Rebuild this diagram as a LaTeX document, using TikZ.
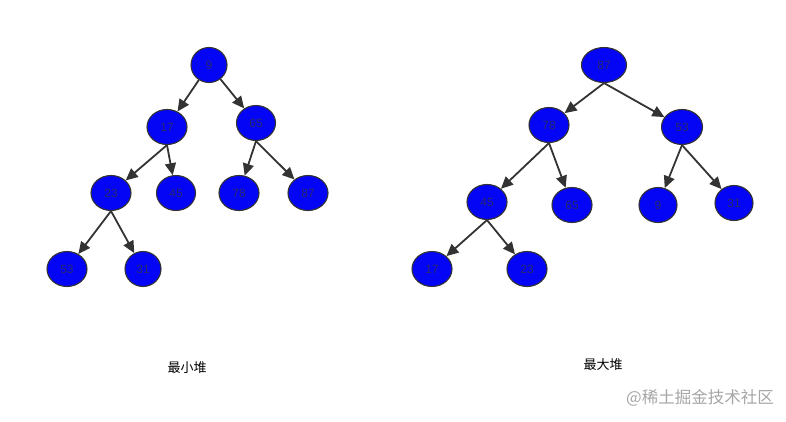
\documentclass[tikz,border=0pt]{standalone}
\usepackage{fontspec}
\setmainfont{Liberation Sans}
\newfontfamily\cjk{Noto Sans CJK SC}
\usetikzlibrary{shapes.geometric,arrows.meta}
\definecolor{nodeblue}{RGB}{5,5,245}
\definecolor{edgegray}{RGB}{51,51,51}
\definecolor{numcol}{RGB}{40,40,110}
\tikzset{
  hnode/.style={ellipse,draw=edgegray,line width=1.1pt,fill=nodeblue,minimum width=#1,minimum height=35pt,inner sep=0pt,font=\fontsize{12pt}{12pt}\selectfont,text=numcol},
  hnode/.default=40pt,
  hedge/.style={draw=edgegray,line width=1.8pt,-{Triangle[length=12pt,width=11pt]}},
  caption/.style={font=\cjk\fontsize{13pt}{13pt}\selectfont,text=black}
}
\begin{document}
\begin{tikzpicture}[x=1pt,y=-1pt]
\useasboundingbox (0,0) rectangle (786,422);
\fill[white] (0,0) rectangle (786,422);
% left tree (min heap)
\node[hnode=36pt] (l9) at (209,65) {9};
\node[hnode] (l17) at (167,127) {17};
\node[hnode=39pt] (l65) at (256,123) {65};
\node[hnode] (l23) at (111,193) {23};
\node[hnode=39pt] (l45) at (176,193) {45};
\node[hnode] (l78) at (239,193) {78};
\node[hnode] (l87) at (308,193) {87};
\node[hnode] (l53) at (67,269) {53};
\node[hnode=36pt] (l31) at (143,269) {31};
\path[hedge] (l9) -- (l17);
\path[hedge] (l9) -- (l65);
\path[hedge] (l17.south) -- (l23);
\path[hedge] (l17.south) -- (l45);
\path[hedge] (l65.south) -- (l78);
\path[hedge] (l65.south) -- (l87);
\path[hedge] (l23.south) -- (l53);
\path[hedge] (l23.south) -- (l31);
% right tree (max heap)
\node[hnode=45pt] (r87) at (604,65) {87};
\node[hnode] (r78) at (549,125) {78};
\node[hnode=41pt] (r53) at (682,127) {53};
\node[hnode] (r45) at (487,202) {45};
\node[hnode] (r65) at (572,205) {65};
\node[hnode=38pt] (r9) at (658,205) {9};
\node[hnode=38pt] (r31) at (734,203) {31};
\node[hnode] (r17) at (432,269) {17};
\node[hnode] (r23) at (527,269) {23};
\path[hedge] (r87.south) -- (r78);
\path[hedge] (r87.south) -- (r53);
\path[hedge] (r78.south) -- (r45);
\path[hedge] (r78.south) -- (r65);
\path[hedge] (r53.south) -- (r9);
\path[hedge] (r53.south) -- (r31);
\path[hedge] (r45.south) -- (r17);
\path[hedge] (r45.south) -- (r23);
% captions
\node[caption] (cmin) at (187,368) {最小堆};
\node[caption] (cmax) at (603,365) {最大堆};
\node[font=\cjk\fontsize{16.5pt}{16.5pt}\selectfont,text=black!35] (wm) at (700,398) {@稀土掘金技术社区};
\end{tikzpicture}
\end{document}
